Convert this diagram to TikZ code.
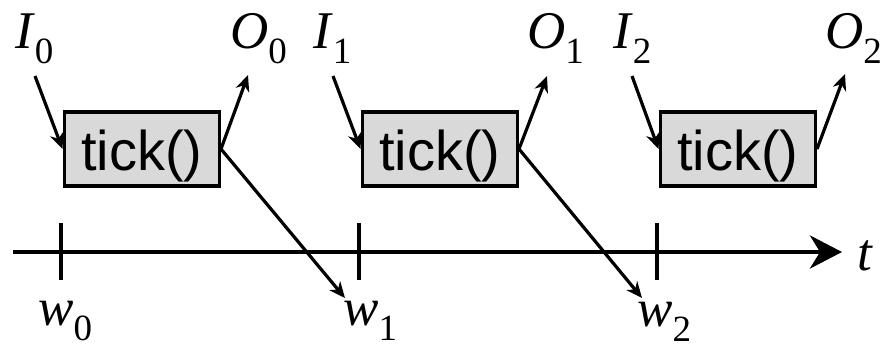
\documentclass[tikz,border=0pt]{standalone}
\usepackage{fontspec}
\setmainfont{Liberation Serif}
\newfontfamily\boxfont{Liberation Sans}
\usetikzlibrary{arrows.meta,positioning}
\definecolor{tickbg}{HTML}{D9D9D9}
\newcommand{\vsub}[2]{\textit{#1}\raisebox{-15pt}{\fontsize{37}{37}\selectfont #2}}

\begin{document}
\begin{tikzpicture}[
  x=1pt, y=-1pt,
  tickbox/.style={draw=black, line width=3.5pt, fill=tickbg, minimum width=155pt, minimum height=74pt, inner sep=0pt, text height=43pt, text depth=0pt, anchor=west, font=\boxfont\fontsize{56}{60}\selectfont},
  var/.style ={anchor=base west, inner sep=0pt, font=\fontsize{53}{60}\selectfont},
  arr/.style ={-{Stealth[length=16pt, width=14pt, inset=5pt]}, line width=3.2pt},
  axis/.style={-{Stealth[length=32pt, width=33pt, inset=10pt]}, line width=4.5pt},
  tickmark/.style={line width=3.5pt},
]
  \useasboundingbox (0,0) rectangle (890,349);

  % time axis
  \coordinate (axstart) at (13,252);
  \coordinate (axend)   at (842,252);
  \draw[axis] (axstart) -- (axend);
  \draw[tickmark] (61,223)  -- (61,280);
  \draw[tickmark] (359,223) -- (359,280);
  \draw[tickmark] (657,223) -- (657,280);
  \node[var] (tlab) at (857,270) {\textit{t}};

  % calls
  \node[tickbox] (tick0) at (62.5,149)  {tick()};
  \node[tickbox] (tick1) at (360.5,149) {tick()};
  \node[tickbox] (tick2) at (658.5,149) {tick()};

  \node[var] (in0)  at (15,48)  {\vsub{I}{0}};
  \node[var] (out0) at (230,48) {\vsub{O}{0}};
  \node[var] (in1)  at (313,48) {\vsub{I}{1}};
  \node[var] (out1) at (527,48) {\vsub{O}{1}};
  \node[var] (in2)  at (613,48) {\vsub{I}{2}};
  \node[var] (out2) at (825,48) {\vsub{O}{2}};

  \node[var] (w0) at (38,325)  {\vsub{w}{0}};
  \node[var] (w1) at (343,325) {\vsub{w}{1}};
  \node[var] (w2) at (637,326) {\vsub{w}{2}};

  % arrow ends
  \coordinate (i0) at (35,76);
  \coordinate (i1) at (333,76);
  \coordinate (i2) at (632,76);
  \coordinate (o0) at (248,75);
  \coordinate (o1) at (547,76);
  \coordinate (o2) at (845,74);
  \coordinate (d1) at (345,298);
  \coordinate (d2) at (642,298);

  \draw[arr] (i0) -- (tick0.west);
  \draw[arr] (i1) -- (tick1.west);
  \draw[arr] (i2) -- (tick2.west);
  \draw[arr] (tick0.east) -- (o0);
  \draw[arr] (tick1.east) -- (o1);
  \draw[arr] (tick2.east) -- (o2);
  \draw[arr] (tick0.east) -- (d1);
  \draw[arr] (tick1.east) -- (d2);
\end{tikzpicture}
\end{document}
